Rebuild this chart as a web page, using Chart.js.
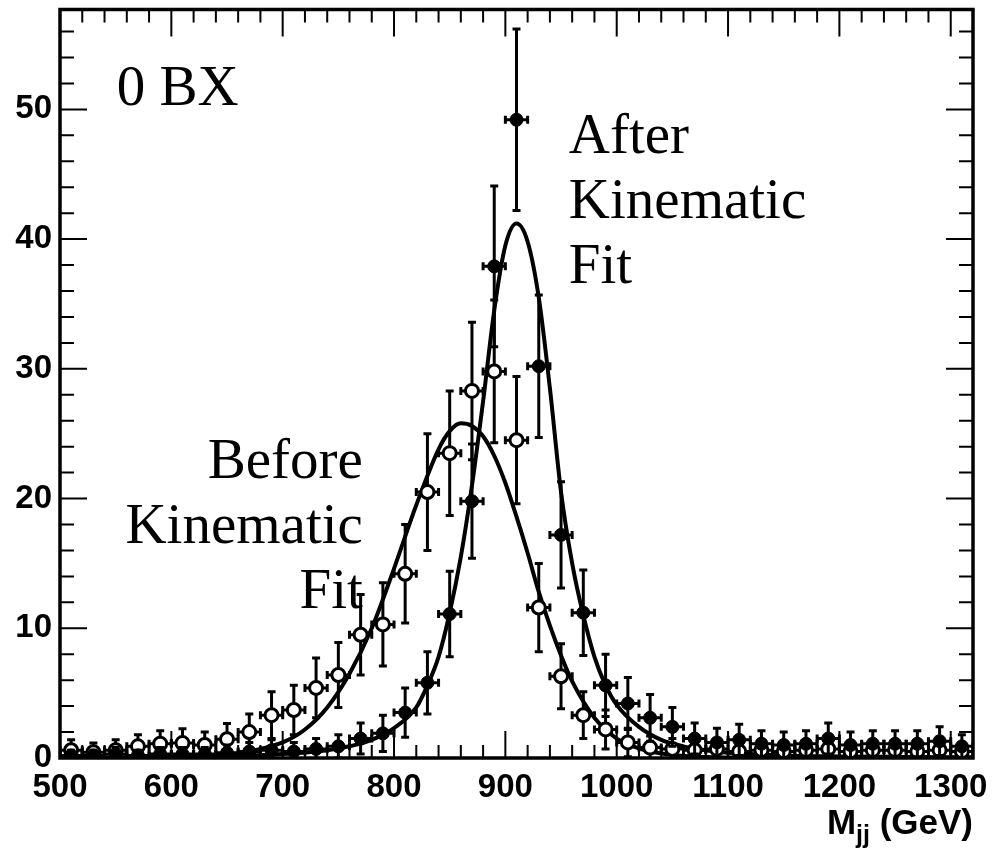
<!DOCTYPE html>
<html>
<head>
<meta charset="utf-8">
<script src="https://cdn.jsdelivr.net/npm/chart.js@4/dist/chart.umd.min.js"></script>
<style>
  body { margin: 0; background: #fff; }
  canvas { display: block; }
</style>
</head>
<body>
<canvas id="massChart" width="993" height="855"></canvas>
<script>
// bin centres (GeV), 20 GeV bins from 500 to 1320
const binCenters = [510, 530, 550, 570, 590, 610, 630, 650, 670, 690, 710, 730, 750, 770, 790, 810, 830, 850, 870, 890,
    910, 930, 950, 970, 990, 1010, 1030, 1050, 1070, 1090, 1110, 1130, 1150, 1170, 1190, 1210, 1230, 1250, 1270, 1290, 1310];
const binHalfWidth = 10;

// before kinematic fit (open markers)
const beforeValues = [0.6, 0.45, 0.6, 0.9, 1.1, 1.15, 1.0, 1.45, 2.0, 3.3, 3.7, 5.4, 6.4, 9.5, 10.3, 14.2, 20.5, 23.5, 28.3, 29.8,
    24.5, 11.6, 6.3, 3.3, 2.2, 1.2, 0.8, 0.7, 0.6, 0.7, 0.5, 0.6, 0.5, 0.6, 0.7, 0.5, 0.6, 0.6, 0.5, 0.6, 0.5];
const beforeErrors = [0.8, 0.7, 0.8, 0.9, 1.0, 1.1, 1.0, 1.2, 1.4, 1.8, 1.9, 2.3, 2.5, 3.1, 3.2, 3.8, 4.5, 4.8, 5.3, 5.5,
    4.9, 3.4, 2.5, 1.8, 1.5, 1.1, 0.9, 0.8, 0.8, 0.8, 0.7, 0.8, 0.7, 0.8, 0.8, 0.7, 0.8, 0.8, 0.7, 0.8, 0.7];

// after kinematic fit (filled markers)
const afterValues = [0.2, 0.2, 0.3, 0.2, 0.3, 0.3, 0.3, 0.4, 0.5, 0.6, 0.5, 0.7, 0.9, 1.5, 1.9, 3.5, 5.8, 11.1, 19.8, 37.9,
    49.2, 30.2, 17.2, 11.2, 5.6, 4.2, 3.1, 2.4, 1.5, 1.2, 1.4, 1.1, 1.0, 1.1, 1.5, 1.0, 1.1, 1.1, 1.1, 1.3, 0.9];
const afterErrors = [0.4, 0.4, 0.5, 0.4, 0.5, 0.5, 0.5, 0.6, 0.7, 0.8, 0.7, 0.8, 0.9, 1.2, 1.4, 1.9, 2.4, 3.3, 4.4, 6.2,
    7.0, 5.5, 4.1, 3.3, 2.4, 2.0, 1.8, 1.5, 1.2, 1.1, 1.2, 1.0, 1.0, 1.0, 1.2, 1.0, 1.0, 1.0, 1.0, 1.1, 0.9];

// fitted curves
const beforeCurveX = [500, 560, 600, 640, 660, 680, 700, 720, 740, 760, 780, 800, 820, 840, 850, 860, 870, 880, 890, 900,
    910, 920, 930, 940, 950, 960, 980, 1000, 1020, 1040, 1060, 1080, 1120, 1200, 1320];
const beforeCurveY = [0.01, 0.02, 0.07, 0.2, 0.35, 0.7, 1.2, 2.2, 3.9, 6.5, 10.0, 14.6, 19.5, 23.8, 25.2, 25.8, 25.6, 24.8, 23.3, 21.2,
    18.6, 15.8, 12.8, 10.2, 7.9, 5.9, 3.1, 1.5, 0.75, 0.35, 0.16, 0.07, 0.02, 0.01, 0.01];
const afterCurveX = [500, 600, 660, 700, 740, 760, 780, 800, 820, 830, 840, 850, 860, 870, 880, 890, 900, 910, 920, 930,
    940, 950, 960, 970, 980, 990, 1000, 1020, 1040, 1060, 1080, 1100, 1150, 1200, 1260, 1320];
const afterCurveY = [0.02, 0.08, 0.15, 0.3, 0.6, 0.9, 1.4, 2.3, 3.9, 5.6, 7.8, 11.2, 15.5, 21.0, 27.5, 34.5, 39.5, 41.2, 39.8, 35.5,
    28.5, 20.5, 15.0, 11.0, 7.8, 5.6, 4.1, 2.4, 1.4, 0.9, 0.6, 0.4, 0.2, 0.12, 0.08, 0.05];

const xTickLabels = [500, 600, 700, 800, 900, 1000, 1100, 1200, 1300];
const yTickLabels = [0, 10, 20, 30, 40, 50];

const tickFont = { family: "'Liberation Sans Narrow', 'Liberation Sans', Arial, sans-serif", weight: 'bold', size: 33 };

function toPoints(xs, ys) {
    return xs.map((x, i) => ({ x: x, y: ys[i] }));
}

// vertical + horizontal error bars, drawn just before each marker dataset
const errorBars = {
    id: 'errorBars',
    beforeDatasetDraw(chart, args) {
        const ds = chart.data.datasets[args.index];
        if (!ds.errors) return;
        const { ctx, chartArea: a, scales: { x, y } } = chart;
        ctx.save();
        ctx.beginPath();
        ctx.rect(a.left, a.top, a.width, a.height);
        ctx.clip();
        ctx.strokeStyle = '#000';
        ctx.lineWidth = 3;
        ds.data.forEach((p, i) => {
            const e = ds.errors[i];
            const px = x.getPixelForValue(p.x);
            const py = y.getPixelForValue(p.y);
            const top = y.getPixelForValue(p.y + e);
            const bot = y.getPixelForValue(p.y - e);
            const left = x.getPixelForValue(p.x - binHalfWidth);
            const right = x.getPixelForValue(p.x + binHalfWidth);
            ctx.beginPath();
            ctx.moveTo(px, top); ctx.lineTo(px, bot);
            ctx.moveTo(px - 4, top); ctx.lineTo(px + 4, top);
            ctx.moveTo(px - 4, bot); ctx.lineTo(px + 4, bot);
            ctx.moveTo(left, py); ctx.lineTo(right, py);
            ctx.moveTo(left, py - 4); ctx.lineTo(left, py + 4);
            ctx.moveTo(right, py - 4); ctx.lineTo(right, py + 4);
            ctx.stroke();
        });
        ctx.restore();
    }
};

// ROOT style box with inward ticks on all four sides
const rootFrame = {
    id: 'rootFrame',
    afterDraw(chart) {
        const { ctx, chartArea: a, scales: { x, y } } = chart;
        ctx.save();
        ctx.strokeStyle = '#000';
        ctx.lineWidth = 2;
        ctx.beginPath();
        for (let v = 500; v <= x.max; v += 20) {
            const px = x.getPixelForValue(v);
            const len = v % 100 === 0 ? 27 : 13;
            ctx.moveTo(px, a.bottom); ctx.lineTo(px, a.bottom - len);
            ctx.moveTo(px, a.top); ctx.lineTo(px, a.top + len);
        }
        for (let v = 0; v <= y.max; v += 2) {
            const py = y.getPixelForValue(v);
            const len = v % 10 === 0 ? 27 : 14;
            ctx.moveTo(a.left, py); ctx.lineTo(a.left + len, py);
            ctx.moveTo(a.right, py); ctx.lineTo(a.right - len, py);
        }
        ctx.stroke();
        ctx.lineWidth = 3.5;
        ctx.strokeRect(a.left, a.top, a.width, a.height);

        // x axis title, right aligned with the axis end
        ctx.fillStyle = '#000';
        ctx.textBaseline = 'alphabetic';
        ctx.textAlign = 'left';
        const big = "bold 35px 'Liberation Sans', Arial, sans-serif";
        const small = "bold 25px 'Liberation Sans', Arial, sans-serif";
        ctx.font = big;
        const wM = ctx.measureText('M').width;
        const wRest = ctx.measureText(' (GeV)').width;
        ctx.font = small;
        const wSub = ctx.measureText('jj').width;
        let tx = a.right - (wM + wSub + wRest);
        const ty = a.bottom + 76;
        ctx.font = big;
        ctx.fillText('M', tx, ty);
        ctx.font = small;
        ctx.fillText('jj', tx + wM, ty + 9);
        ctx.font = big;
        ctx.fillText(' (GeV)', tx + wM + wSub, ty);
        ctx.restore();
    }
};

// text labels placed in data coordinates
const annotations = [
    { lines: ['0 BX'], x: 551, y: 50.3, align: 'left' },
    { lines: ['After', 'Kinematic', 'Fit'], x: 957, y: 46.6, align: 'left' },
    { lines: ['Before', 'Kinematic', 'Fit'], x: 772, y: 21.6, align: 'right' }
];

const textLabels = {
    id: 'textLabels',
    afterDraw(chart) {
        const { ctx, scales: { x, y } } = chart;
        ctx.save();
        ctx.fillStyle = '#000';
        ctx.font = "57px 'Liberation Serif', 'Times New Roman', serif";
        ctx.textBaseline = 'alphabetic';
        annotations.forEach(t => {
            ctx.textAlign = t.align;
            t.lines.forEach((line, i) => {
                ctx.fillText(line, x.getPixelForValue(t.x), y.getPixelForValue(t.y) + i * 65);
            });
        });
        ctx.restore();
    }
};

const ctx = document.getElementById('massChart').getContext('2d');
new Chart(ctx, {
    type: 'scatter',
    data: {
        datasets: [
            {
                label: 'After Kinematic Fit',
                data: toPoints(binCenters, afterValues),
                errors: afterErrors,
                pointStyle: 'circle',
                pointRadius: 6.5,
                pointBackgroundColor: '#000',
                pointBorderColor: '#000',
                pointBorderWidth: 1
            },
            {
                label: 'Before Kinematic Fit',
                data: toPoints(binCenters, beforeValues),
                errors: beforeErrors,
                pointStyle: 'circle',
                pointRadius: 6.5,
                pointBackgroundColor: '#fff',
                pointBorderColor: '#000',
                pointBorderWidth: 3
            },
            {
                label: 'After fit curve',
                data: toPoints(afterCurveX, afterCurveY),
                showLine: true,
                cubicInterpolationMode: 'monotone',
                borderColor: '#000',
                borderWidth: 4,
                pointRadius: 0
            },
            {
                label: 'Before fit curve',
                data: toPoints(beforeCurveX, beforeCurveY),
                showLine: true,
                cubicInterpolationMode: 'monotone',
                borderColor: '#000',
                borderWidth: 4,
                pointRadius: 0
            }
        ]
    },
    options: {
        responsive: false,
        animation: false,
        events: [],
        layout: { padding: { top: 8, right: 20, left: 0, bottom: 0 } },
        plugins: {
            legend: { display: false },
            tooltip: { enabled: false }
        },
        scales: {
            x: {
                type: 'linear',
                min: 500,
                max: 1320,
                afterBuildTicks: s => { s.ticks = xTickLabels.map(v => ({ value: v })); },
                afterFit: s => { s.height = 97; s.paddingLeft = 0; s.paddingRight = 0; },
                grid: { display: false, drawTicks: false },
                border: { display: false },
                ticks: { font: tickFont, color: '#000', padding: 10, maxRotation: 0, autoSkip: false,
                    callback: v => String(v) }
            },
            y: {
                type: 'linear',
                min: 0,
                max: 57.7,
                afterBuildTicks: s => { s.ticks = yTickLabels.map(v => ({ value: v })); },
                afterFit: s => { s.width = 60; s.paddingTop = 0; s.paddingBottom = 0; },
                grid: { display: false, drawTicks: false },
                border: { display: false },
                ticks: { font: tickFont, color: '#000', padding: 8, autoSkip: false,
                    callback: v => String(v) }
            }
        }
    },
    plugins: [errorBars, rootFrame, textLabels]
});
</script>
</body>
</html>
